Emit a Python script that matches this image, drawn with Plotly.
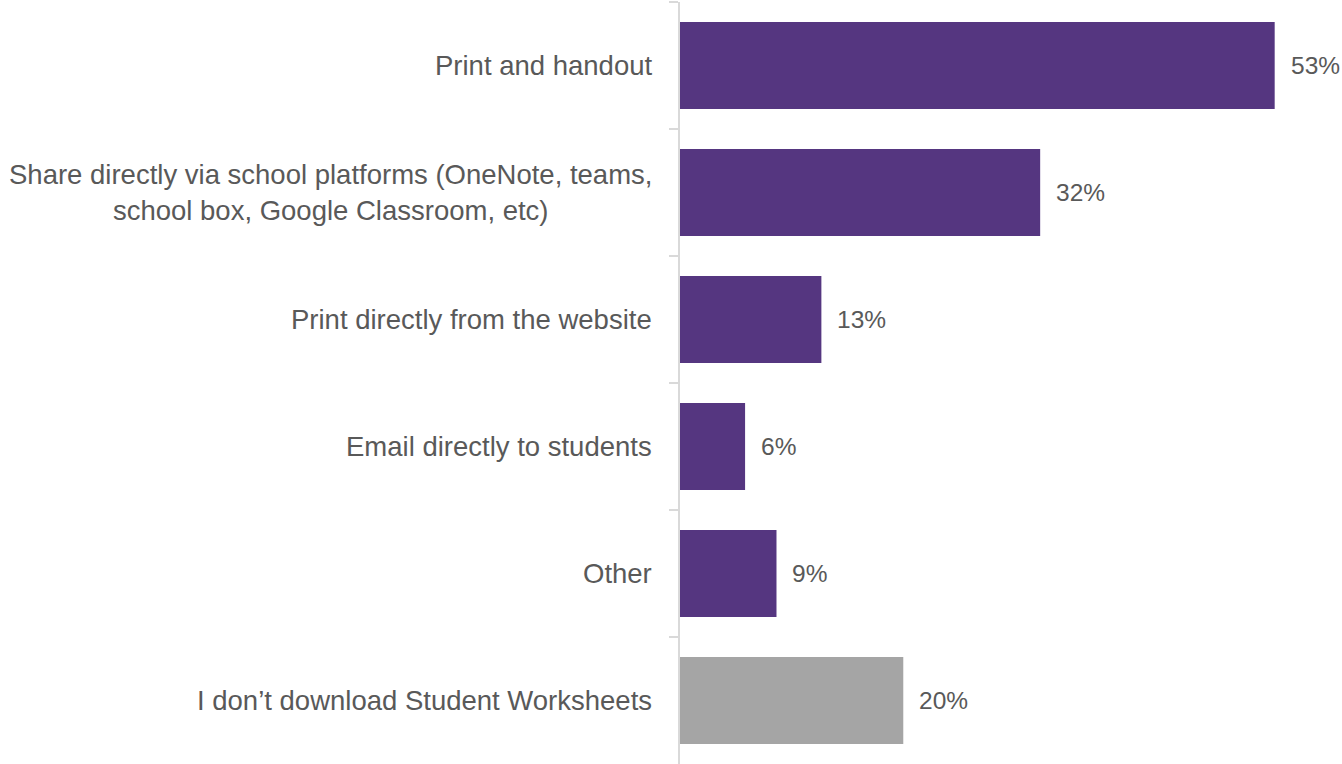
import plotly.graph_objects as go

categories = [
    "Print and handout",
    "Share directly via school platforms (OneNote, teams,<br>school box, Google Classroom, etc)",
    "Print directly from the website",
    "Email directly to students",
    "Other",
    "I don\u2019t download Student Worksheets",
]
values = [53.0, 32.1, 12.6, 5.8, 8.6, 19.9]
value_labels = ["53%", "32%", "13%", "6%", "9%", "20%"]
bar_colors = ["#553680", "#553680", "#553680", "#553680", "#553680", "#A5A5A5"]

FONT = "Liberation Sans, Arial, sans-serif"
TEXT = "#595959"

fig = go.Figure()
fig.add_trace(go.Bar(
    x=values,
    y=categories,
    orientation="h",
    marker=dict(color=bar_colors, line=dict(width=0)),
    hoverinfo="skip",
))

annotations = []
for cat, v, lab in zip(categories, values, value_labels):
    annotations.append(dict(
        x=v, y=cat, xref="x", yref="y", text=lab, showarrow=False,
        xanchor="left", yanchor="middle", xshift=14,
        font=dict(family=FONT, size=24.5, color=TEXT),
    ))
    annotations.append(dict(
        x=0, y=cat, xref="paper", yref="y", text=cat, showarrow=False,
        xanchor="right", yanchor="middle", xshift=-26, align="center",
        font=dict(family=FONT, size=27.5, color=TEXT),
    ))

fig.update_layout(
    width=1342, height=764,
    margin=dict(l=680, r=0, t=2, b=0),
    paper_bgcolor="white", plot_bgcolor="white",
    bargap=0.315,
    showlegend=False,
    annotations=annotations,
    xaxis=dict(range=[0, 59.0], showgrid=False, zeroline=False,
               showline=False, showticklabels=False, ticks=""),
    yaxis=dict(autorange="reversed", showgrid=False, zeroline=False,
               showline=True, linecolor="#D9D9D9", linewidth=2,
               ticks="outside", tickson="boundaries", ticklen=9,
               tickcolor="#D9D9D9", tickwidth=2, showticklabels=False),
)

fig.write_html("out.html",
               config={"displayModeBar": False},
               post_script="document.body.style.margin='0';document.body.style.overflow='hidden';")
